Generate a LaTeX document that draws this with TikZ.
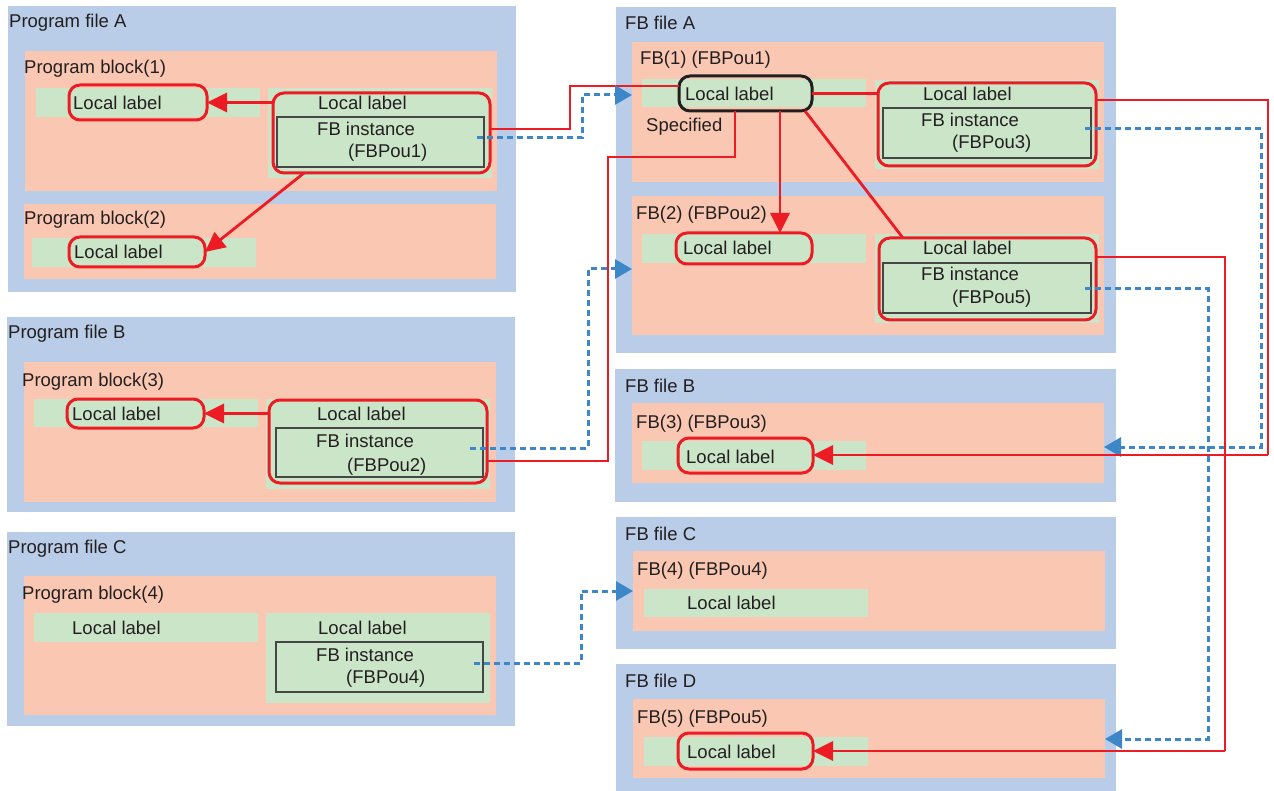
\documentclass[tikz,border=0pt]{standalone}
\usepackage{fontspec}
\setmainfont{Liberation Sans}
\usetikzlibrary{arrows.meta}
\definecolor{bgblue}{RGB}{185,205,232}
\definecolor{salmon}{RGB}{250,200,178}
\definecolor{lgreen}{RGB}{203,229,200}
\definecolor{myred}{RGB}{237,28,36}
\definecolor{lblue}{RGB}{61,135,200}
\definecolor{txtc}{RGB}{35,31,32}
\definecolor{fbgray}{RGB}{70,70,70}
\newcommand{\mkbox}[6]{\node[#2,anchor=north west,minimum width={(#5-#3)*1pt},minimum height={(#6-#4)*1pt}] (#1) at (#3,#4) {};}
\tikzset{
  base/.style={inner sep=0pt,outer sep=0pt},
  filebox/.style={base,fill=bgblue},
  blockbox/.style={base,fill=salmon},
  greenbox/.style={base,fill=lgreen},
  redbox/.style={base,draw=myred,line width=3pt,rounded corners=11pt},
  blackbox/.style={base,draw=txtc,line width=3pt,rounded corners=11pt},
  fbrect/.style={base,draw=fbgray,line width=1.4pt},
  txt/.style={inner sep=0pt,anchor=base west,text=txtc,font=\fontsize{18.5pt}{22pt}\selectfont},
  redl/.style={draw=myred,line width=2.8pt},
  redarr/.style={redl,-{Triangle[length=20pt,width=19pt]}},
  bluel/.style={draw=lblue,line width=3pt,dash pattern=on 6pt off 4pt},
  bluearr/.style={bluel,-{Triangle[length=17pt,width=19pt]}}
}
\begin{document}
\begin{tikzpicture}[x=1pt,y=-1pt]
\useasboundingbox (0,0) rectangle (1274,791);
% ---------- Program file A
\mkbox{pfA}{filebox}{8}{6}{516}{292}
\mkbox{pb1}{blockbox}{25}{51}{497}{191}
\mkbox{pb1gL}{greenbox}{36}{88}{260}{117}
\mkbox{pb1gR}{greenbox}{268}{88}{492}{178}
\mkbox{pa1l}{redbox}{69}{85}{207}{120}
\mkbox{pa1fb}{fbrect}{277}{117}{484}{167}
\mkbox{pa1big}{redbox}{273}{93}{490}{173}
\mkbox{pb2}{blockbox}{24}{204}{496}{279}
\mkbox{pb2g}{greenbox}{32}{238}{256}{267}
\mkbox{pa2l}{redbox}{69}{237}{205}{267}
\node[txt] (tA1) at (9,28) {Program file A};
\node[txt] (tA2) at (24,74) {Program block(1)};
\node[txt] (tA3) at (73,110) {Local label};
\node[txt] (tA4) at (318,110) {Local label};
\node[txt] (tA5) at (317,136) {FB instance};
\node[txt] (tA6) at (348,158) {(FBPou1)};
\node[txt] (tA7) at (24,225) {Program block(2)};
\node[txt] (tA8) at (74,259) {Local label};
% ---------- Program file B
\mkbox{pfB}{filebox}{7}{317}{515}{512}
\mkbox{pb3}{blockbox}{24}{362}{496}{502}
\mkbox{pb3gL}{greenbox}{34}{399}{258}{427}
\mkbox{pb3gR}{greenbox}{266}{399}{490}{489}
\mkbox{pb3l}{redbox}{67}{399}{204}{428}
\mkbox{pb3fb}{fbrect}{276}{428}{483}{477}
\mkbox{pb3big}{redbox}{269}{400}{487}{483}
\node[txt] (tB1) at (8,339) {Program file B};
\node[txt] (tB2) at (22,386) {Program block(3)};
\node[txt] (tB3) at (72,420) {Local label};
\node[txt] (tB4) at (317,420) {Local label};
\node[txt] (tB5) at (316,447) {FB instance};
\node[txt] (tB6) at (347,471) {(FBPou2)};
% ---------- Program file C
\mkbox{pfC}{filebox}{7}{532}{515}{726}
\mkbox{pb4}{blockbox}{24}{576}{496}{715}
\mkbox{pb4gL}{greenbox}{34}{613}{258}{642}
\mkbox{pb4gR}{greenbox}{266}{613}{490}{703}
\mkbox{pb4fb}{fbrect}{276}{642}{483}{692}
\node[txt] (tC1) at (8,553) {Program file C};
\node[txt] (tC2) at (22,599) {Program block(4)};
\node[txt] (tC3) at (72,634) {Local label};
\node[txt] (tC4) at (318,634) {Local label};
\node[txt] (tC5) at (316,661) {FB instance};
\node[txt] (tC6) at (346,683) {(FBPou4)};
% ---------- FB file A
\mkbox{fA}{filebox}{616}{7}{1116}{353}
\mkbox{fb1}{blockbox}{632}{42}{1104}{182}
\mkbox{fb1gL}{greenbox}{642}{79}{866}{107}
\mkbox{fb1gR}{greenbox}{875}{80}{1099}{169}
\mkbox{fb1l}{blackbox}{679}{76}{812}{111}
\mkbox{fb3fb}{fbrect}{883}{108}{1091}{158}
\mkbox{fb3big}{redbox}{878}{83}{1096}{166}
\mkbox{fb2}{blockbox}{632}{196}{1104}{335}
\mkbox{fb2gL}{greenbox}{642}{234}{866}{263}
\mkbox{fb2gR}{greenbox}{875}{234}{1099}{323}
\mkbox{fb2l}{redbox}{676}{233}{812}{264}
\mkbox{fb5fb}{fbrect}{883}{263}{1091}{313}
\mkbox{fb5big}{redbox}{879}{238}{1096}{320}
\node[txt] (tFA1) at (625,30) {FB file A};
\node[txt] (tFA2) at (640,65) {FB(1) (FBPou1)};
\node[txt] (tFA3) at (685,101) {Local label};
\node[txt] (tFA4) at (646,132) {Specified};
\node[txt] (tFA5) at (923,101) {Local label};
\node[txt] (tFA6) at (921,127) {FB instance};
\node[txt] (tFA7) at (952,149) {(FBPou3)};
\node[txt] (tFA8) at (636,220) {FB(2) (FBPou2)};
\node[txt] (tFA9) at (683,255) {Local label};
\node[txt] (tFA10) at (923,255) {Local label};
\node[txt] (tFA11) at (921,281) {FB instance};
\node[txt] (tFA12) at (952,304) {(FBPou5)};
% ---------- FB file B
\mkbox{fB}{filebox}{615}{369}{1116}{502}
\mkbox{fbB}{blockbox}{632}{403}{1104}{483}
\mkbox{fbBg}{greenbox}{642}{441}{866}{470}
\mkbox{fbBl}{redbox}{678}{438}{813}{473}
\node[txt] (tFB1) at (625,392) {FB file B};
\node[txt] (tFB2) at (636,428) {FB(3) (FBPou3)};
\node[txt] (tFB3) at (686,463) {Local label};
% ---------- FB file C
\mkbox{fC}{filebox}{616}{517}{1116}{649}
\mkbox{fbC}{blockbox}{633}{551}{1105}{631}
\mkbox{fbCg}{greenbox}{644}{589}{868}{617}
\node[txt] (tFC1) at (625,540) {FB file C};
\node[txt] (tFC2) at (637,575) {FB(4) (FBPou4)};
\node[txt] (tFC3) at (687,609) {Local label};
% ---------- FB file D
\mkbox{fD}{filebox}{616}{664}{1116}{791}
\mkbox{fbD}{blockbox}{633}{699}{1105}{778}
\mkbox{fbDg}{greenbox}{644}{737}{868}{766}
\mkbox{fbDl}{redbox}{678}{733}{813}{769}
\node[txt] (tFD1) at (625,687) {FB file D};
\node[txt] (tFD2) at (637,723) {FB(5) (FBPou5)};
\node[txt] (tFD3) at (687,758) {Local label};
% ---------- bend coordinates
\coordinate (k1) at (570,86);
\coordinate (d2s) at (477,138);
\coordinate (k2) at (582,95);
\coordinate (k3) at (608,157);
\coordinate (d4s) at (470,448);
\coordinate (k4) at (588,269);
\coordinate (k8) at (1268,455);
\coordinate (d9s) at (1085,129);
\coordinate (k9) at (1261,447);
\coordinate (k10) at (1225,751);
\coordinate (d11s) at (1085,289);
\coordinate (k11) at (1208,739);
\coordinate (d12s) at (474,663);
\coordinate (k12) at (581,591);
% ---------- connectors
\draw[redarr] (pa1l.east -| pa1big.west) -- (pa1l.east);
\draw[redarr] ([xshift=-77.5pt]pa1big.south) -- (pa2l.east);
\draw[redarr] (pb3l.east -| pb3big.west) -- (pb3l.east);
\draw[redl] ([yshift=4pt]pa1big.east) -| (k1) -- (k1 -| fb1l.west);
\draw[redl] ([yshift=-19.5pt]pb3big.east) -| (k3) -| ([xshift=-10.5pt]fb1l.south);
\draw[redarr] ([xshift=34.5pt]fb1l.south) -- ([xshift=34.5pt]fb1l.south |- fb2l.north);
\draw[redl] ([xshift=-7pt]fb1l.south east) -- ([xshift=-84.5pt]fb5big.north);
\draw[redl] (fb1l.east) -- (fb1l.east -| fb3big.west);
\draw[bluearr] (d2s) -| (k2) -- (k2 -| fb1.west);
\draw[bluearr] (d4s) -| (k4) -- (k4 -| fb2.west);
\draw[bluearr] (d12s) -| (k12) -- (k12 -| fbC.west);
\draw[bluearr] (d9s) -| (k9) -- (k9 -| fbB.east);
\draw[bluearr] (d11s) -| (k11) -- (k11 -| fbD.east);
\draw[redl] ([yshift=24.5pt]fb3big.east) -| (k8);
\draw[redarr] (k8) -- (k8 -| fbBl.east);
\draw[redl] ([yshift=22pt]fb5big.east) -| (k10);
\draw[redarr] (k10) -- (k10 -| fbDl.east);
\end{tikzpicture}
\end{document}
